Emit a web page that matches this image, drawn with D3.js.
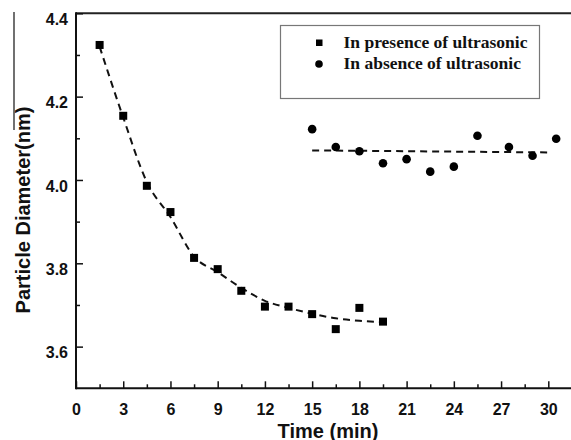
<!DOCTYPE html>
<html>
<head>
<meta charset="utf-8">
<script src="https://cdn.jsdelivr.net/npm/d3@7"></script>
<style>
  body { margin: 0; background: #fff; }
  svg { display: block; }
  .tick text { font-family: "Liberation Sans", Arial, sans-serif; font-weight: bold; font-size: 16px; fill: #111; }
</style>
</head>
<body>
<div id="chart"></div>
<script>
// time (min) and particle diameter (nm)
const presenceTime = [1.5, 3, 4.5, 6, 7.5, 9, 10.5, 12, 13.5, 15, 16.5, 18, 19.5];
const presenceDiam = [4.324, 4.154, 3.986, 3.923, 3.813, 3.786, 3.734, 3.696, 3.696, 3.678, 3.642, 3.693, 3.660];

const absenceTime = [15, 16.5, 18, 19.5, 21, 22.5, 24, 25.5, 27.5, 29, 30.5];
const absenceDiam = [4.122, 4.079, 4.069, 4.040, 4.050, 4.020, 4.032, 4.106, 4.079, 4.058, 4.099];

// dashed trend lines
const presenceFitTime = [1.5, 3, 4.5, 6, 7.5, 9, 10.5, 12, 13.5, 15, 16.5, 18, 19.5];
const presenceFitDiam = [4.32, 4.15, 3.995, 3.911, 3.816, 3.779, 3.741, 3.71, 3.693, 3.679, 3.668, 3.662, 3.659];
const absenceFitTime = [15, 30.2];
const absenceFitDiam = [4.071, 4.066];

const xMajor = [0, 3, 6, 9, 12, 15, 18, 21, 24, 27, 30];
const xMinor = [1.5, 4.5, 7.5, 10.5, 13.5, 16.5, 19.5, 22.5, 25.5, 28.5];
const yMajor = [3.6, 3.8, 4.0, 4.2, 4.4];
const yMinor = [3.7, 3.9, 4.1, 4.3];

const legendLabels = ["In presence of ultrasonic", "In absence of ultrasonic"];

const W = 571, H = 440;

const svg = d3.select("#chart").append("svg")
    .attr("width", W)
    .attr("height", H);

const x = d3.scaleLinear().domain([0, 30]).range([76, 548.3]);
const y = d3.scaleLinear().domain([3.5, 4.4]).range([388.3, 13.3]);

// axes lines
svg.append("line")
    .attr("x1", x(0)).attr("x2", W)
    .attr("y1", y(3.5)).attr("y2", y(3.5))
    .attr("stroke", "#111").attr("stroke-width", 2);
svg.append("line")
    .attr("x1", x(0)).attr("x2", W)
    .attr("y1", y(4.4)).attr("y2", y(4.4))
    .attr("stroke", "#222").attr("stroke-width", 2);
svg.append("line")
    .attr("x1", x(0)).attr("x2", x(0))
    .attr("y1", y(4.4) - 1).attr("y2", y(3.5) + 1)
    .attr("stroke", "#111").attr("stroke-width", 2);

// stray frame line at far left
svg.append("line")
    .attr("x1", 14).attr("x2", 14)
    .attr("y1", 12).attr("y2", 130)
    .attr("stroke", "#111").attr("stroke-width", 1.2);

// x axis ticks (inward)
const xAxis = svg.append("g")
    .attr("transform", `translate(0,${y(3.5)})`)
    .call(d3.axisBottom(x).tickValues(xMajor).tickSize(-7).tickPadding(15).tickFormat(d3.format("d")));
xAxis.select(".domain").remove();
xAxis.selectAll(".tick line").attr("stroke", "#111").attr("stroke-width", 1.5);

const xAxisMinor = svg.append("g")
    .attr("transform", `translate(0,${y(3.5)})`)
    .call(d3.axisBottom(x).tickValues(xMinor).tickSize(-4).tickFormat(""));
xAxisMinor.select(".domain").remove();
xAxisMinor.selectAll(".tick line").attr("stroke", "#111").attr("stroke-width", 1.5);

// y axis ticks (inward)
const yAxis = svg.append("g")
    .attr("transform", `translate(${x(0)},0)`)
    .call(d3.axisLeft(y).tickValues(yMajor).tickSize(-7).tickPadding(8).tickFormat(d3.format(".1f")));
yAxis.select(".domain").remove();
yAxis.selectAll(".tick line").attr("stroke", "#111").attr("stroke-width", 1.5);
yAxis.selectAll(".tick text").attr("dy", "0.7em");

const yAxisMinor = svg.append("g")
    .attr("transform", `translate(${x(0)},0)`)
    .call(d3.axisLeft(y).tickValues(yMinor).tickSize(-4).tickFormat(""));
yAxisMinor.select(".domain").remove();
yAxisMinor.selectAll(".tick line").attr("stroke", "#111").attr("stroke-width", 1.5);

// axis titles
svg.append("text")
    .attr("x", 328).attr("y", 437.5)
    .attr("text-anchor", "middle")
    .style("font-family", "'Liberation Sans', Arial, sans-serif")
    .style("font-weight", "bold")
    .style("font-size", "20px")
    .style("fill", "#111")
    .text("Time (min)");

svg.append("text")
    .attr("transform", "translate(30,210) rotate(-90)")
    .attr("text-anchor", "middle")
    .style("font-family", "'Liberation Sans', Arial, sans-serif")
    .style("font-weight", "bold")
    .style("font-size", "20px")
    .style("fill", "#111")
    .text("Particle Diameter(nm)");

// dashed trend lines
const line = d3.line().x(d => x(d[0])).y(d => y(d[1]));
svg.append("path")
    .datum(d3.zip(presenceFitTime, presenceFitDiam))
    .attr("d", line.curve(d3.curveMonotoneX))
    .attr("fill", "none")
    .attr("stroke", "#111")
    .attr("stroke-width", 2)
    .attr("stroke-dasharray", "7,5");
svg.append("path")
    .datum(d3.zip(absenceFitTime, absenceFitDiam))
    .attr("d", d3.line().x(d => x(d[0])).y(d => y(d[1])))
    .attr("fill", "none")
    .attr("stroke", "#111")
    .attr("stroke-width", 2)
    .attr("stroke-dasharray", "7,5");

// markers
const sq = 8;
svg.selectAll(".sq")
    .data(d3.zip(presenceTime, presenceDiam))
    .enter().append("rect")
    .attr("class", "sq")
    .attr("x", d => x(d[0]) - sq / 2)
    .attr("y", d => y(d[1]) - sq / 2)
    .attr("width", sq).attr("height", sq)
    .attr("fill", "#000");

svg.selectAll(".dot")
    .data(d3.zip(absenceTime, absenceDiam))
    .enter().append("circle")
    .attr("class", "dot")
    .attr("cx", d => x(d[0]))
    .attr("cy", d => y(d[1]))
    .attr("r", 4.3)
    .attr("fill", "#000");

// legend
const legend = svg.append("g");
legend.append("rect")
    .attr("x", 280.5).attr("y", 25.5)
    .attr("width", 259).attr("height", 73)
    .attr("fill", "#fff")
    .attr("stroke", "#777").attr("stroke-width", 1.2);
legend.append("rect")
    .attr("x", 316).attr("y", 39.5)
    .attr("width", 6.5).attr("height", 6.5)
    .attr("fill", "#000");
legend.append("circle")
    .attr("cx", 319).attr("cy", 64)
    .attr("r", 3.8)
    .attr("fill", "#000");
legend.selectAll(".ltext")
    .data(legendLabels)
    .enter().append("text")
    .attr("class", "ltext")
    .attr("x", 343.5)
    .attr("y", (d, i) => 47.5 + i * 21.5)
    .style("font-family", "'Liberation Serif', 'Times New Roman', serif")
    .style("font-weight", "bold")
    .style("font-size", "17.5px")
    .style("fill", "#111")
    .text(d => d);
</script>
</body>
</html>
